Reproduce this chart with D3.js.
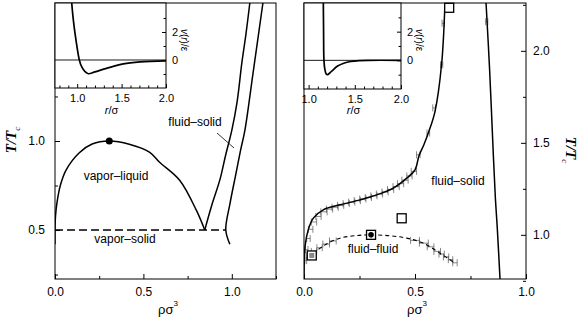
<!DOCTYPE html>
<html>
<head>
<meta charset="utf-8">
<script src="https://cdn.jsdelivr.net/npm/d3@7"></script>
<style>
body { margin: 0; background: #fff; }
svg { display: block; font-family: "Liberation Sans", Arial, sans-serif; }
.frame { fill: none; stroke: #000; stroke-width: 1; }
.axis path { display: none; }
.axis line { stroke: #000; }
.axis text { font-size: 12px; fill: #000; }
.inset-axis text { font-size: 11px; }
.curve { fill: none; stroke: #000; stroke-width: 1.5; }
.bar { stroke: #555; stroke-width: 0.7; }
</style>
</head>
<body>
<svg width="581" height="321"></svg>
<script>
// ---- data ----
// left panel: long-range potential
var leftVaporLiquid = [[0, 0.42], [0, 0.5], [0.003, 0.58], [0.011, 0.652], [0.03, 0.75], [0.0625, 0.837],
    [0.136, 0.933], [0.21, 0.983], [0.307, 1.0], [0.42, 0.982], [0.534, 0.938], [0.59, 0.882],
    [0.705, 0.78], [0.80, 0.61], [0.847, 0.5]];
var leftFluid = [[0.847, 0.5], [0.89, 0.65], [0.932, 0.78], [0.965, 0.92], [1.0, 1.06], [1.03, 1.22],
    [1.057, 1.44], [1.08, 1.6], [1.102, 1.775]];
var leftSolid = [[0.989, 0.42], [0.966, 0.5], [0.99, 0.65], [1.02, 0.8], [1.05, 0.95], [1.074, 1.06],
    [1.12, 1.38], [1.176, 1.775]];
var leftTriple = [[0, 0.5], [0.966, 0.5]];
var leftCritical = [0.307, 1.0];
var leftPotential = [[0.938, 4.1], [0.956, 2.88], [0.986, 1.43], [1.024, 0], [1.05, -0.48], [1.088, -0.83],
    [1.125, -0.98], [1.2, -0.85], [1.33, -0.6], [1.52, -0.28], [1.71, -0.14], [2.0, -0.06]];

// right panel: short-range potential
var rightFluid = [[0, 0.76], [0.0045, 0.935], [0.019, 1.027], [0.042, 1.091], [0.087, 1.136], [0.162, 1.163],
    [0.252, 1.19], [0.327, 1.217], [0.402, 1.254], [0.463, 1.308], [0.5, 1.353], [0.518, 1.43],
    [0.54, 1.49], [0.562, 1.56], [0.59, 1.67], [0.62, 1.93], [0.635, 2.26]];
var rightSolid = [[0.82, 2.26], [0.836, 1.9], [0.853, 1.43], [0.862, 1.2], [0.87, 1.05], [0.883, 0.76]];
var rightFluidFluid = [[0.015, 0.875], [0.027, 0.882], [0.087, 0.94], [0.162, 0.982], [0.237, 0.996],
    [0.302, 1.0], [0.387, 0.995], [0.463, 0.982], [0.537, 0.955], [0.613, 0.9], [0.68, 0.846]];
var fluidBars = [[0.008, 0.86, 0.004], [0.012, 0.92, 0.006], [0.02, 0.98, 0.008], [0.03, 1.03, 0.01],
    [0.045, 1.07, 0.012], [0.065, 1.1, 0.012], [0.09, 1.125, 0.014], [0.115, 1.14, 0.014],
    [0.14, 1.15, 0.014], [0.165, 1.16, 0.014], [0.19, 1.17, 0.014], [0.215, 1.178, 0.014],
    [0.24, 1.186, 0.014], [0.265, 1.195, 0.014], [0.29, 1.203, 0.014], [0.315, 1.212, 0.014],
    [0.34, 1.222, 0.014], [0.365, 1.233, 0.014], [0.39, 1.246, 0.014], [0.415, 1.262, 0.014],
    [0.435, 1.278, 0.014], [0.455, 1.297, 0.014], [0.475, 1.32, 0.012], [0.495, 1.345, 0.012],
    [0.515, 1.435, 0.008], [0.56, 1.553, 0.006], [0.586, 1.69, 0.006], [0.62, 1.924, 0.005],
    [0.627, 2.15, 0.005], [0.823, 2.158, 0.005]];
var fluidFluidBars = [[0.02, 0.885, 0.01], [0.045, 0.91, 0.012], [0.07, 0.93, 0.012], [0.1, 0.95, 0.015],
    [0.13, 0.967, 0.015], [0.5, 0.97, 0.02], [0.54, 0.955, 0.02], [0.57, 0.935, 0.015],
    [0.6, 0.91, 0.015], [0.62, 0.895, 0.012], [0.64, 0.88, 0.012], [0.66, 0.865, 0.01],
    [0.68, 0.848, 0.01]];
var rightSquares = [[0.035, 0.888, "grey"], [0.302, 1.0, "dot"], [0.44, 1.09, "open"], [0.654, 2.234, "open"]];
var rightPotential = [[1.159, 4.1], [1.162, 2], [1.166, 0], [1.175, -0.6], [1.19, -0.95], [1.205, -1.0],
    [1.25, -0.75], [1.314, -0.4], [1.38, -0.2], [1.454, -0.08], [1.55, -0.02], [1.65, 0], [2.0, 0]];

var rhoTicks = [0, 0.5, 1.0],
    rhoMinor = [0.25, 0.75, 1.25],
    leftTTicks = [0.5, 1.0],
    leftTMinor = [0.25, 0.75, 1.25, 1.5],
    rightTTicks = [1.0, 1.5, 2.0],
    rightTMinor = [0.75, 1.25, 1.75, 2.25],
    rTicks = [1.0, 1.5, 2.0],
    rMinor = [0.8, 0.9, 1.1, 1.2, 1.3, 1.4, 1.6, 1.7, 1.8, 1.9],
    vTicks = [0, 2],
    vMinor = [-1, 1, 3];

var svg = d3.select("svg");

// scales
var xL = d3.scaleLinear().domain([0, 1.25]).range([55, 276]),
    yL = d3.scaleLinear().domain([0.225, 1.775]).range([279, 3]),
    xR = d3.scaleLinear().domain([0, 1]).range([304, 526]),
    yR = d3.scaleLinear().domain([0.76, 2.26]).range([279, 3]),
    ixL = d3.scaleLinear().domain([0.75, 2.0]).range([55, 166]),
    iyL = d3.scaleLinear().domain([-2, 4.07]).range([88, 3]),
    ixR = d3.scaleLinear().domain([0.95, 2.0]).range([304, 401]),
    iyR = d3.scaleLinear().domain([-2, 4]).range([89, 3]);

var defs = svg.append("defs");
function clip(id, x, y) {
    defs.append("clipPath").attr("id", id).append("rect")
        .attr("x", x.range()[0]).attr("y", y.range()[1])
        .attr("width", x.range()[1] - x.range()[0])
        .attr("height", y.range()[0] - y.range()[1]);
    return "url(#" + id + ")";
}

function lineFor(x, y) {
    return d3.line()
        .x(function(d) { return x(d[0]); })
        .y(function(d) { return y(d[1]); })
        .curve(d3.curveCatmullRom.alpha(0.5));
}

function frame(g, x, y) {
    g.append("rect").attr("class", "frame")
        .attr("x", x.range()[0]).attr("y", y.range()[1])
        .attr("width", x.range()[1] - x.range()[0])
        .attr("height", y.range()[0] - y.range()[1]);
}

function addAxis(g, axis, tx, ty, cls) {
    g.append("g").attr("class", "axis " + (cls || ""))
        .attr("transform", "translate(" + tx + "," + ty + ")")
        .call(axis);
}

function fmt1(d) { return d3.format(".1f")(d); }

// ---------- LEFT PANEL ----------
var left = svg.append("g");
var clipL = clip("clipL", xL, yL);
var plotL = left.append("g").attr("clip-path", clipL);
var lineL = lineFor(xL, yL);

plotL.append("path").attr("class", "curve").attr("d", lineL(leftVaporLiquid));
plotL.append("path").attr("class", "curve").attr("d", lineL(leftFluid));
plotL.append("path").attr("class", "curve").attr("d", lineL(leftSolid));
plotL.append("path").attr("class", "curve")
    .attr("d", d3.line().x(function(d) { return xL(d[0]); }).y(function(d) { return yL(d[1]); })(leftTriple))
    .style("stroke-dasharray", "8,4");
plotL.append("circle").attr("cx", xL(leftCritical[0])).attr("cy", yL(leftCritical[1])).attr("r", 3.5);

// pointer from label
left.append("line").attr("x1", 217).attr("y1", 133).attr("x2", 234).attr("y2", 148)
    .attr("stroke", "#000").attr("stroke-width", 0.8);

left.append("text").attr("x", 116).attr("y", 180).attr("text-anchor", "middle")
    .style("font-size", "12px").text("vapor\u2013liquid");
left.append("text").attr("x", 125).attr("y", 243).attr("text-anchor", "middle")
    .style("font-size", "12px").text("vapor\u2013solid");
left.append("text").attr("x", 195).attr("y", 126).attr("text-anchor", "middle")
    .style("font-size", "12px").text("fluid\u2013solid");

frame(left, xL, yL);
addAxis(left, d3.axisBottom(xL).tickValues(rhoTicks).tickSize(-5).tickPadding(8).tickFormat(fmt1), 0, 279);
addAxis(left, d3.axisBottom(xL).tickValues(rhoMinor).tickSize(-3).tickFormat(""), 0, 279);
addAxis(left, d3.axisLeft(yL).tickValues(leftTTicks).tickSize(-5).tickPadding(10).tickFormat(fmt1), 55, 0);
addAxis(left, d3.axisLeft(yL).tickValues(leftTMinor).tickSize(-3).tickFormat(""), 55, 0);

// ---------- RIGHT PANEL ----------
var right = svg.append("g");
var clipR = clip("clipR", xR, yR);
var plotR = right.append("g").attr("clip-path", clipR);
var lineR = lineFor(xR, yR);

function bars(g, data) {
    var b = g.append("g").selectAll("g").data(data).enter().append("g");
    b.append("line").attr("class", "bar")
        .attr("x1", function(d) { return xR(d[0] - d[2]); })
        .attr("x2", function(d) { return xR(d[0] + d[2]); })
        .attr("y1", function(d) { return yR(d[1]); })
        .attr("y2", function(d) { return yR(d[1]); });
    [-1, 1].forEach(function(s) {
        b.append("line").attr("class", "bar")
            .attr("x1", function(d) { return xR(d[0] + s * d[2]); })
            .attr("x2", function(d) { return xR(d[0] + s * d[2]); })
            .attr("y1", function(d) { return yR(d[1]) - 3.5; })
            .attr("y2", function(d) { return yR(d[1]) + 3.5; });
    });
}

bars(plotR, fluidBars);
bars(plotR, fluidFluidBars);
plotR.append("path").attr("class", "curve").attr("d", lineR(rightFluid));
plotR.append("path").attr("class", "curve").attr("d", lineR(rightSolid));
plotR.append("path").attr("class", "curve").attr("d", lineR(rightFluidFluid))
    .style("stroke-width", 1.1).style("stroke-dasharray", "4,3");

var sq = right.append("g").selectAll("g").data(rightSquares).enter().append("g")
    .attr("transform", function(d) { return "translate(" + xR(d[0]) + "," + yR(d[1]) + ")"; });
sq.append("rect").attr("x", -4.5).attr("y", -4.5).attr("width", 9).attr("height", 9)
    .attr("fill", "#fff").attr("stroke", "#000").attr("stroke-width", 1.3);
sq.filter(function(d) { return d[2] === "dot"; }).append("circle").attr("r", 2.8);
sq.filter(function(d) { return d[2] === "grey"; }).append("rect")
    .attr("x", -2.5).attr("y", -2.5).attr("width", 5).attr("height", 5).attr("fill", "#888");

right.append("text").attr("x", 458).attr("y", 185).attr("text-anchor", "middle")
    .style("font-size", "12px").text("fluid\u2013solid");
right.append("text").attr("x", 373).attr("y", 253).attr("text-anchor", "middle")
    .style("font-size", "12px").text("fluid\u2013fluid");

frame(right, xR, yR);
addAxis(right, d3.axisBottom(xR).tickValues(rhoTicks).tickSize(-5).tickPadding(8).tickFormat(fmt1), 0, 279);
addAxis(right, d3.axisBottom(xR).tickValues(rhoMinor.slice(0, 2)).tickSize(-3).tickFormat(""), 0, 279);
addAxis(right, d3.axisRight(yR).tickValues(rightTTicks).tickSize(-5).tickPadding(7).tickFormat(fmt1), 526, 0);
addAxis(right, d3.axisRight(yR).tickValues(rightTMinor).tickSize(-3).tickFormat(""), 526, 0);

// ---------- INSETS ----------
function inset(g, x, y, data, id) {
    g.append("rect").attr("x", x.range()[0]).attr("y", y.range()[1])
        .attr("width", x.range()[1] - x.range()[0]).attr("height", y.range()[0] - y.range()[1])
        .attr("fill", "#fff");
    var c = clip(id, x, y);
    var p = g.append("g").attr("clip-path", c);
    p.append("line").attr("x1", x.range()[0]).attr("x2", x.range()[1])
        .attr("y1", y(0)).attr("y2", y(0)).attr("stroke", "#000").attr("stroke-width", 0.9);
    p.append("path").attr("class", "curve").style("stroke-width", 1.7).attr("d", lineFor(x, y)(data));
    frame(g, x, y);
    var x1 = x.range()[1], yb = y.range()[0];
    addAxis(g, d3.axisBottom(x).tickValues(rTicks).tickSize(-4).tickPadding(6).tickFormat(fmt1), 0, yb, "inset-axis");
    addAxis(g, d3.axisBottom(x).tickValues(rMinor.filter(function(v) { return v > x.domain()[0]; }))
        .tickSize(-2.5).tickFormat(""), 0, yb, "inset-axis");
    addAxis(g, d3.axisRight(y).tickValues(vTicks).tickSize(-4).tickPadding(6).tickFormat(d3.format("d")),
        x1, 0, "inset-axis");
    addAxis(g, d3.axisRight(y).tickValues(vMinor).tickSize(-2.5).tickFormat(""), x1, 0, "inset-axis");

    var xl = g.append("text").attr("x", (x.range()[0] + x1) / 2 + 1).attr("y", 114)
        .attr("text-anchor", "middle").style("font-size", "11px");
    xl.append("tspan").style("font-style", "italic").text("r");
    xl.append("tspan").text("/\u03c3");

    var yl = g.append("text").attr("transform", "translate(" + (x1 + 15) + "," + 40 + ") rotate(90)")
        .attr("text-anchor", "middle").style("font-size", "10px");
    yl.append("tspan").style("font-style", "italic").text("v");
    yl.append("tspan").text("(");
    yl.append("tspan").style("font-style", "italic").text("r");
    yl.append("tspan").text(")/\u03b5");
}

inset(svg.append("g"), ixL, iyL, leftPotential, "clipIL");
inset(svg.append("g"), ixR, iyR, rightPotential, "clipIR");

// ---------- AXIS TITLES ----------
function rhoLabel(cx) {
    var t = svg.append("text").attr("x", cx).attr("y", 314).attr("text-anchor", "middle")
        .style("font-size", "13px");
    t.append("tspan").text("\u03c1\u03c3");
    t.append("tspan").attr("dy", -8).style("font-size", "8px").text("3");
}
rhoLabel(168);
rhoLabel(417);

function tLabel(x, y, rot) {
    var t = svg.append("text").attr("transform", "translate(" + x + "," + y + ") rotate(" + rot + ")")
        .attr("text-anchor", "middle")
        .style("font-family", "'Liberation Serif', 'Times New Roman', serif")
        .style("font-weight", "bold").style("font-style", "italic").style("font-size", "15px");
    t.append("tspan").text("T/T");
    t.append("tspan").attr("dy", 4).style("font-size", "9px").style("font-weight", "normal").text("c");
}
tLabel(16, 140, -90);
tLabel(566, 150, 90);
</script>
</body>
</html>
